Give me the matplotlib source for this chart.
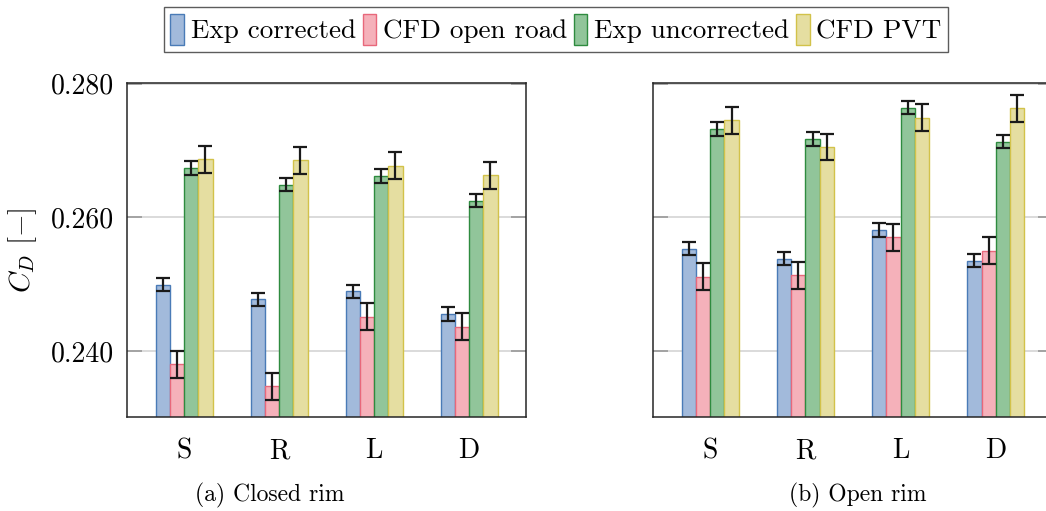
import matplotlib
matplotlib.use("Agg")
import matplotlib.pyplot as plt
import numpy as np

plt.rcParams['font.family'] = 'cmr10'
plt.rcParams['mathtext.fontset'] = 'cm'
plt.rcParams['axes.formatter.use_mathtext'] = True

categories = ["S", "R", "L", "D"]
series_names = ["Exp corrected", "CFD open road", "Exp uncorrected", "CFD PVT"]

closed_exp_corr = [0.2499, 0.2477, 0.2489, 0.2455]
closed_cfd_open = [0.2380, 0.2347, 0.2451, 0.2436]
closed_exp_unc = [0.2674, 0.2649, 0.2662, 0.2625]
closed_cfd_pvt = [0.2687, 0.2685, 0.2677, 0.2663]

open_exp_corr = [0.2553, 0.2538, 0.2581, 0.2535]
open_cfd_open = [0.2511, 0.2513, 0.2570, 0.2550]
open_exp_unc = [0.2732, 0.2717, 0.2764, 0.2713]
open_cfd_pvt = [0.2745, 0.2705, 0.2749, 0.2763]

err_exp = [0.0010, 0.0010, 0.0010, 0.0010]
err_cfd = [0.0020, 0.0020, 0.0020, 0.0020]

yticks = [0.240, 0.260, 0.280]
ytick_labels = ["0.240", "0.260", "0.280"]
subtitles = ["(a) Closed rim", "(b) Open rim"]

fills = ["#a2badb", "#f5b1ba", "#91c59a", "#e5dea1"]
edges = ["#4a7bb7", "#e8687b", "#2e8b3f", "#d2c24a"]

fig = plt.figure(figsize=(10.46, 5.11), dpi=100)
W, H = 1046, 511
ax1 = fig.add_axes([127 / W, (H - 417) / H, 399 / W, 334 / H])
ax2 = fig.add_axes([653 / W, (H - 417) / H, 400 / W, 334 / H])

x = np.arange(len(categories))
bw = 0.15
offsets = [-1.5 * bw, -0.5 * bw, 0.5 * bw, 1.5 * bw]

panels = [
    (ax1, [closed_exp_corr, closed_cfd_open, closed_exp_unc, closed_cfd_pvt]),
    (ax2, [open_exp_corr, open_cfd_open, open_exp_unc, open_cfd_pvt]),
]
errs = [err_exp, err_cfd, err_exp, err_cfd]

handles = []
for ax, data in panels:
    for yv in yticks:
        ax.axhline(yv, color="#d4d4d4", lw=1.2, zorder=0)
    for i, vals in enumerate(data):
        b = ax.bar(x + offsets[i], vals, width=bw, color=fills[i], edgecolor=edges[i],
                   linewidth=1.0, zorder=2, label=series_names[i])
        ax.errorbar(x + offsets[i], vals, yerr=errs[i], fmt="none", ecolor="#1a1a1a",
                    elinewidth=1.6, capsize=5, capthick=1.6, zorder=3)
        if ax is ax1:
            handles.append(b)
    ax.set_xlim(-0.6, 3.6)
    ax.set_ylim(0.2301, 0.2801)
    ax.set_xticks(x)
    ax.set_xticklabels(categories, fontsize=20)
    ax.tick_params(axis="x", length=0, pad=15)
    ax.set_yticks(yticks)
    ax.tick_params(axis="y", direction="in", length=11, color="#9a9a9a", width=1.2,
                   left=True, right=True, labelsize=20, pad=9)
    for s in ax.spines.values():
        s.set_color("#262626")
        s.set_linewidth(1.1)

ax1.set_yticklabels(ytick_labels)
ax2.set_yticklabels([])
ax1.set_ylabel(r"$C_D\ [-]$", fontsize=21, labelpad=9)

fig.text(270 / W, 1 - 495 / H, subtitles[0], ha="center", va="center", fontsize=17)
fig.text(858 / W, 1 - 495 / H, subtitles[1], ha="center", va="center", fontsize=17)

leg = fig.legend(handles, series_names, loc="upper center", bbox_to_anchor=(556 / W, 1 - 7 / H),
                 ncol=4, fontsize=19.5, frameon=True, fancybox=False, handlelength=0.5,
                 handleheight=1.4, handletextpad=0.25, columnspacing=0.25, borderpad=0.25,
                 borderaxespad=0)
leg.get_frame().set_edgecolor("#333333")
leg.get_frame().set_linewidth(1.0)

fig.savefig("out.png", dpi=100)
